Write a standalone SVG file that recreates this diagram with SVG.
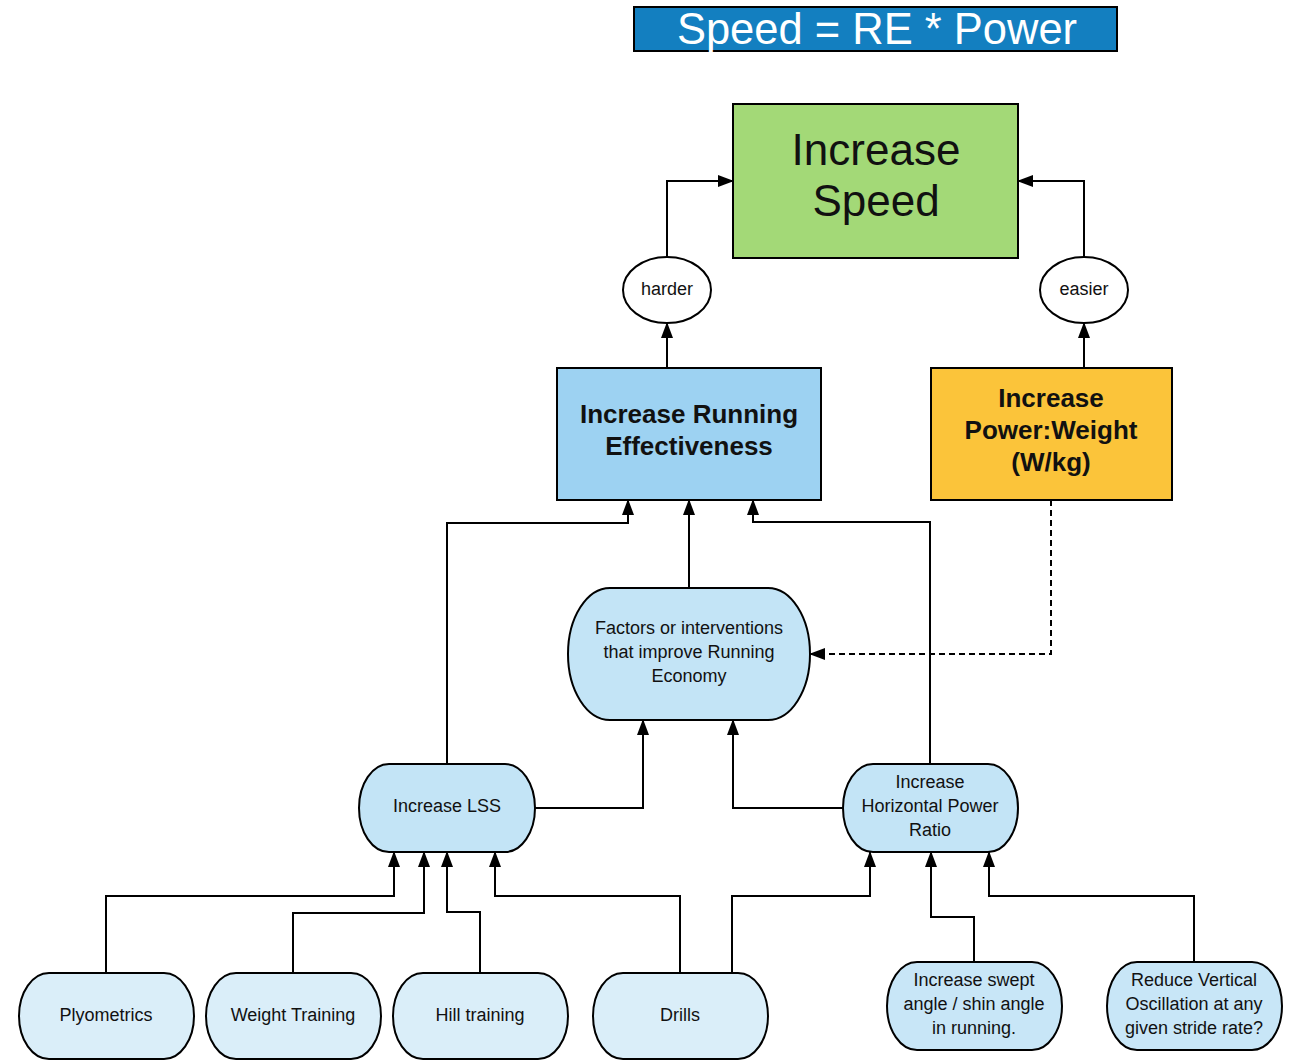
<svg xmlns="http://www.w3.org/2000/svg" width="1291" height="1061" viewBox="0 0 1291 1061">
<defs>
<style>
text{font-family:"Liberation Sans",Arial,sans-serif;fill:#111;text-anchor:middle}
.n{stroke:#000;stroke-width:2}
.c{fill:none;stroke:#000;stroke-width:2}
.t18{font-size:18px}
.b26{font-size:26px;font-weight:bold}
</style>
<marker id="ah" viewBox="0 0 16 12" refX="15" refY="6" markerWidth="8" markerHeight="6" markerUnits="strokeWidth" orient="auto">
<path d="M0,0 L16,6 L0,12 Z" fill="#000"/>
</marker>
</defs>
<rect width="1291" height="1061" fill="#fff"/>

<g id="title">
<rect x="634" y="7" width="483" height="44" fill="#137fc0" stroke="#000" stroke-width="2"/>
<text x="877" y="44" style="font-size:43.5px;fill:#fff">Speed = RE * Power</text>
</g>

<g id="connectors">
<path class="c" d="M667,258 V181 H733" marker-end="url(#ah)"/>
<path class="c" d="M1084,258 V181 H1018" marker-end="url(#ah)"/>
<path class="c" d="M667,368 V323" marker-end="url(#ah)"/>
<path class="c" d="M1084,368 V323" marker-end="url(#ah)"/>
<path class="c" d="M1051,500 V654 H810" stroke-dasharray="6,4" marker-end="url(#ah)"/>
<path class="c" d="M689,588 V500" marker-end="url(#ah)"/>
<path class="c" d="M447,764 V523 H628 V500" marker-end="url(#ah)"/>
<path class="c" d="M930,764 V522 H753 V500" marker-end="url(#ah)"/>
<path class="c" d="M535,808 H643 V720" marker-end="url(#ah)"/>
<path class="c" d="M843,808 H733 V720" marker-end="url(#ah)"/>
<path class="c" d="M106,973 V896 H394 V852" marker-end="url(#ah)"/>
<path class="c" d="M293,973 V913 H424 V852" marker-end="url(#ah)"/>
<path class="c" d="M480,973 V912 H447 V852" marker-end="url(#ah)"/>
<path class="c" d="M680,973 V896 H495 V852" marker-end="url(#ah)"/>
<path class="c" d="M732,973 V896 H870 V852" marker-end="url(#ah)"/>
<path class="c" d="M974,962 V917 H931 V852" marker-end="url(#ah)"/>
<path class="c" d="M1194,962 V896 H989 V852" marker-end="url(#ah)"/>
</g>

<g id="increase-speed">
<rect class="n" x="733" y="104" width="285" height="154" fill="#a3d977"/>
<text x="876" y="165" style="font-size:44px">Increase</text>
<text x="876" y="216" style="font-size:44px">Speed</text>
</g>

<g id="harder">
<ellipse class="n" cx="667" cy="290" rx="44" ry="33" fill="#fff"/>
<text class="t18" x="667" y="295">harder</text>
</g>

<g id="easier">
<ellipse class="n" cx="1084" cy="290" rx="44" ry="33" fill="#fff"/>
<text class="t18" x="1084" y="295">easier</text>
</g>

<g id="running-effectiveness">
<rect class="n" x="557" y="368" width="264" height="132" fill="#9dd2f2"/>
<text class="b26" x="689" y="423">Increase Running</text>
<text class="b26" x="689" y="455">Effectiveness</text>
</g>

<g id="power-weight">
<rect class="n" x="931" y="368" width="241" height="132" fill="#fbc43a"/>
<text class="b26" x="1051" y="407">Increase</text>
<text class="b26" x="1051" y="439">Power:Weight</text>
<text class="b26" x="1051" y="471">(W/kg)</text>
</g>

<g id="factors">
<rect class="n" x="568" y="588" width="242" height="132" rx="42" ry="66" fill="#c3e4f6"/>
<text class="t18" x="689" y="634">Factors or interventions</text>
<text class="t18" x="689" y="658">that improve Running</text>
<text class="t18" x="689" y="682">Economy</text>
</g>

<g id="increase-lss">
<rect class="n" x="359" y="764" width="176" height="88" rx="30" ry="44" fill="#c3e4f6"/>
<text class="t18" x="447" y="812">Increase LSS</text>
</g>

<g id="horizontal-power">
<rect class="n" x="843" y="764" width="175" height="88" rx="30" ry="44" fill="#c3e4f6"/>
<text class="t18" x="930" y="788">Increase</text>
<text class="t18" x="930" y="812">Horizontal Power</text>
<text class="t18" x="930" y="836">Ratio</text>
</g>

<g id="plyometrics">
<rect class="n" x="19" y="973" width="175" height="86" rx="30" ry="43" fill="#daeef9"/>
<text class="t18" x="106" y="1021">Plyometrics</text>
</g>

<g id="weight-training">
<rect class="n" x="206" y="973" width="175" height="86" rx="30" ry="43" fill="#daeef9"/>
<text class="t18" x="293" y="1021">Weight Training</text>
</g>

<g id="hill-training">
<rect class="n" x="393" y="973" width="175" height="86" rx="30" ry="43" fill="#daeef9"/>
<text class="t18" x="480" y="1021">Hill training</text>
</g>

<g id="drills">
<rect class="n" x="593" y="973" width="175" height="86" rx="30" ry="43" fill="#daeef9"/>
<text class="t18" x="680" y="1021">Drills</text>
</g>

<g id="swept-angle">
<rect class="n" x="887" y="962" width="175" height="88" rx="30" ry="44" fill="#c8e6f7"/>
<text class="t18" x="974" y="986">Increase swept</text>
<text class="t18" x="974" y="1010">angle / shin angle</text>
<text class="t18" x="974" y="1034">in running.</text>
</g>

<g id="vertical-oscillation">
<rect class="n" x="1107" y="962" width="175" height="88" rx="30" ry="44" fill="#c8e6f7"/>
<text class="t18" x="1194" y="986">Reduce Vertical</text>
<text class="t18" x="1194" y="1010">Oscillation at any</text>
<text class="t18" x="1194" y="1034">given stride rate?</text>
</g>
</svg>
